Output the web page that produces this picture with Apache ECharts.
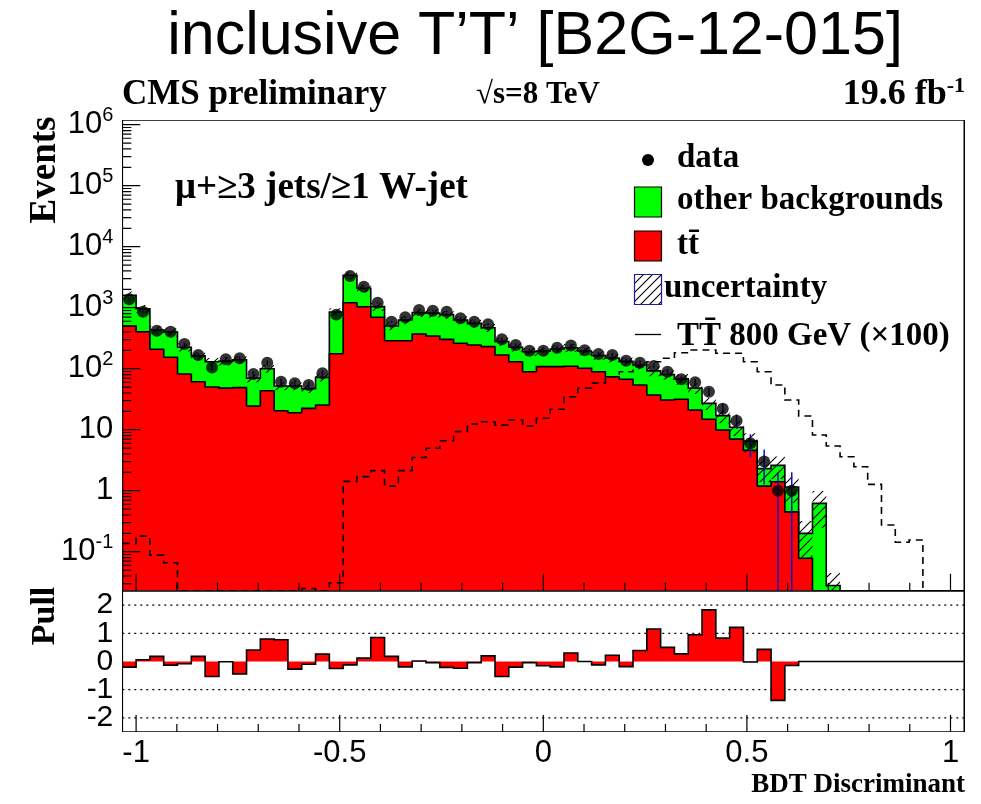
<!DOCTYPE html>
<html><head><meta charset="utf-8">
<script src="https://cdn.jsdelivr.net/npm/echarts@6/dist/echarts.min.js"></script>
<style>html,body{margin:0;padding:0;background:#fff}#c{width:981px;height:804px}</style>
</head><body><div id="c"></div>
<script>
// ---- data (61 bins, BDT discriminant) ----
const binWidth = 2 / 59;
const xMin = -1 - binWidth, xMax = 1 + binWidth;
const yMin = 0.02295, yMax = 1.194e6;

const dataCounts = [1373,860,420,404,254,168,105,143,148,82,125,61,58,54,84,770,3311,2208,1208,589,696,917,893,860,670,589,534,303,245,197,197,221,240,200,174,168,135,125,111,89,67,60,42,22,14,6,3,1,1,0,0,0,0,0,0,0,0,0,0,0,0];
const totalBkg = [1600,960,430,400,225,162,130,133,140,70,100,52,52,47,72,850,3400,2080,1040,500,630,830,815,770,630,555,470,280,225,190,195,210,220,195,165,150,132,115,92,80,68,48,27,17,11,6.5,2.3,2.6,1.15,0.2,0.62,0.028,0,0,0,0,0,0,0,0,0];
const ttbar = [501,404,208,154,82,61,50,48,49,24.5,43.6,20.5,19,22.4,25.4,176,1208,1038,696,288,288,371,344,303,261,245,230,168,130,89,108,108,110,102,89,74,67,54,37,30.7,31.5,21,14.8,9.9,7.0,4.6,1.19,1.4,0.45,0.078,0,0,0,0,0,0,0,0,0,0,0];
const signalX100 = [0.137,0.18,0.088,0.066,0,0,0,0,0,0,0,0,0,0.025,0,0.031,1.42,1.7,2.13,1.19,2.13,3.5,4.96,6.6,9.3,12.4,13.5,11.9,14.4,11.5,15.4,21.6,34.7,48,58,74,89,108,130,148,183,203,203,179,179,130,89,54,30.7,16.8,8.2,5.4,3.6,2.47,1.27,0.274,0.143,0.156,0,0,0];
const pullValues = [-0.2,0.06,0.18,-0.13,-0.08,0.18,-0.53,-0.01,-0.44,0.41,0.8,0.77,-0.27,-0.1,0.26,-0.25,-0.12,0.12,0.85,0.18,-0.19,0.02,-0.04,-0.21,-0.24,-0.04,0.2,-0.53,-0.2,-0.04,-0.15,-0.19,0.3,0,-0.12,0.22,-0.18,0.39,1.15,0.5,0.27,0.95,1.83,0.83,1.21,-0.02,0.43,-1.38,-0.14,0,0,0,0,0,0,0,0,0,0,0,0];
const bkgRelUnc = [0.15,0.15,0.15,0.15,0.15,0.15,0.15,0.15,0.15,0.15,0.15,0.15,0.15,0.15,0.15,0.15,0.15,0.15,0.15,0.15,0.15,0.15,0.15,0.15,0.15,0.15,0.15,0.15,0.15,0.15,0.15,0.15,0.15,0.15,0.15,0.15,0.15,0.15,0.18,0.18,0.2,0.2,0.22,0.25,0.28,0.35,0.4,0.4,0.45,0.6,0.6,0.6,0,0,0,0,0,0,0,0,0];
const xTickLabels = ['-1','-0.5','0','0.5','1'];
const pullTickLabels = ['-2','-1','0','1','2'];

const N = dataCounts.length;
const SERIF = '"Liberation Serif","Times New Roman",serif';
const SANS = '"Liberation Sans",Arial,sans-serif';
function cy(v){ return Math.min(Math.max(v, yMin), yMax); }
function edge(k){ return xMin + k * binWidth; }
function stepTop(api, vals, mapY){
  const pts = [];
  for (let k = 0; k < N; k++) {
    const y = mapY(vals[k]);
    pts.push(api.coord([edge(k), y]));
    pts.push(api.coord([edge(k + 1), y]));
  }
  return pts;
}
function fillItem(upper, lower, color, mapY, base){
  return function(params, api){
    const top = stepTop(api, upper, mapY);
    let bot;
    if (lower) bot = stepTop(api, lower, mapY).reverse();
    else bot = [api.coord([xMax, base]), api.coord([xMin, base])];
    return {type:'polygon', shape:{points: top.concat(bot)}, style:{fill: color, stroke: null}};
  };
}
function outlineItem(vals, mapY, base, dash){
  return function(params, api){
    const pts = [api.coord([xMin, base])].concat(stepTop(api, vals, mapY), [api.coord([xMax, base])]);
    return {type:'polyline', shape:{points: pts}, style:{fill: null, stroke:'#000', lineWidth: 1.6, lineDash: dash || null}};
  };
}
// hatch pattern
const hc = document.createElement('canvas'); hc.width = 9; hc.height = 9;
const hg = hc.getContext('2d'); hg.strokeStyle = '#000'; hg.lineWidth = 1.1;
hg.beginPath(); hg.moveTo(0,9); hg.lineTo(9,0); hg.moveTo(-4.5,4.5); hg.lineTo(4.5,-4.5); hg.moveTo(4.5,13.5); hg.lineTo(13.5,4.5); hg.stroke();
const hatch = {image: hc, repeat: 'repeat'};

function hatchItem(params, api){
  const children = [];
  for (let k = 0; k < N; k++) {
    if (totalBkg[k] <= 0 || bkgRelUnc[k] <= 0) continue;
    const p0 = api.coord([edge(k), cy(totalBkg[k] * (1 + bkgRelUnc[k]))]);
    const p1 = api.coord([edge(k + 1), cy(totalBkg[k] * (1 - bkgRelUnc[k]))]);
    children.push({type:'rect', shape:{x:p0[0], y:p0[1], width:p1[0]-p0[0], height:p1[1]-p0[1]}, style:{fill: hatch}});
  }
  return {type:'group', children};
}
function mainDeco(params, api){
  const ch = [];
  const L = (a, b) => ch.push({type:'line', shape:{x1:a[0], y1:a[1], x2:b[0], y2:b[1]}, style:{stroke:'#000', lineWidth:1.2}});
  for (let n = -2; n <= 6; n++) {
    for (let m = 1; m <= 9; m++) {
      const v = m * Math.pow(10, n);
      if (v < yMin || v > yMax) continue;
      const p = api.coord([xMin, v]);
      L(p, [p[0] + (m === 1 ? 18 : 9), p[1]]);
    }
  }
  for (let i = -10; i <= 10; i++) {
    const p = api.coord([i / 10, yMin]);
    L(p, [p[0], p[1] - (i % 5 === 0 ? 17 : 8)]);
  }
  const a = api.coord([xMin, yMax]), b = api.coord([xMax, yMin]);
  ch.push({type:'rect', shape:{x:a[0], y:a[1], width:b[0]-a[0], height:b[1]-a[1]}, style:{fill:null, stroke:'#000', lineWidth:1.6}});
  return {type:'group', children: ch};
}
function pullGridLines(params, api){
  const ch = [];
  [-2,-1,1,2].forEach(v => {
    const a = api.coord([xMin, v]), b = api.coord([xMax, v]);
    ch.push({type:'line', shape:{x1:a[0], y1:a[1], x2:b[0], y2:b[1]}, style:{stroke:'#000', lineWidth:1.2, lineDash:[2,4]}});
  });
  return {type:'group', children: ch};
}
function pullDeco(params, api){
  const ch = [];
  for (let i = -10; i <= 10; i++) {
    const p = api.coord([i / 10, -2.5]);
    ch.push({type:'line', shape:{x1:p[0], y1:p[1], x2:p[0], y2:p[1] - (i % 5 === 0 ? 17 : 8)}, style:{stroke:'#000', lineWidth:1.2}});
  }
  const a = api.coord([xMin, 2.5]), b = api.coord([xMax, -2.5]);
  ch.push({type:'rect', shape:{x:a[0], y:a[1], width:b[0]-a[0], height:b[1]-a[1]}, style:{fill:null, stroke:'#000', lineWidth:1.6}});
  return {type:'group', children: ch};
}
function errItem(params, api){
  const x = api.value(0), n = api.value(1);
  const s = Math.sqrt(n);
  const a = api.coord([x, cy(n + s)]), b = api.coord([x, cy(n - s)]);
  return {type:'line', shape:{x1:a[0], y1:a[1], x2:b[0], y2:b[1]}, style:{stroke:'#1010c0', lineWidth:1.5}};
}

const pts = [];
for (let k = 0; k < N; k++) if (dataCounts[k] > 0) pts.push([edge(k) + binWidth / 2, dataCounts[k]]);

const one = [[0, 1]];
const cs = (render, z, grid) => ({type:'custom', xAxisIndex: grid, yAxisIndex: grid, data: one, renderItem: render, silent: true, z: z, clip: true, animation: false});
const mapLog = cy, mapLin = v => v;

const chart = echarts.init(document.getElementById('c'), null, {renderer:'canvas', width:981, height:804});
chart.setOption({
  animation: false,
  backgroundColor: '#fff',
  grid: [
    {left:122.3, top:120, width:842, height:470.7, show:false},
    {left:122.3, top:591, width:842, height:141, show:false}
  ],
  xAxis: [
    {type:'value', gridIndex:0, min:xMin, max:xMax, axisLine:{show:false}, axisTick:{show:false}, axisLabel:{show:false}, splitLine:{show:false}},
    {type:'value', gridIndex:1, min:xMin, max:xMax, axisLine:{show:false}, axisTick:{show:false}, splitLine:{show:false},
     axisLabel:{show:true, showMinLabel:false, showMaxLabel:false, margin:6, color:'#000', fontSize:31, fontFamily:SANS,
       formatter: v => { const i = Math.round(v * 2); return Math.abs(v * 2 - i) < 1e-6 && i >= -2 && i <= 2 ? xTickLabels[i + 2] : ''; }}}
  ],
  yAxis: [
    {type:'log', gridIndex:0, logBase:10, min:yMin, max:yMax, splitNumber:8, axisLine:{show:false}, axisTick:{show:false}, splitLine:{show:false},
     axisLabel:{show:true, showMinLabel:false, showMaxLabel:false, margin:9, color:'#000',
       formatter: v => { const l = Math.log10(v); const e = Math.round(l); if (Math.abs(l - e) > 1e-6 || e < -1 || e > 6) return ''; if (e === 0) return '{n|1}'; if (e === 1) return '{n|10}'; return '{n|10}{s|' + e + '}'; },
       rich:{ n:{fontSize:31, fontFamily:SANS, color:'#000', lineHeight:31}, s:{fontSize:20, fontFamily:SANS, color:'#000', lineHeight:20, padding:[0,0,18,0]} }}},
    {type:'value', gridIndex:1, min:-2.5, max:2.5, splitNumber:5, axisLine:{show:false}, axisTick:{show:false}, splitLine:{show:false},
     axisLabel:{show:true, showMinLabel:false, showMaxLabel:false, margin:9, color:'#000', fontSize:30, fontFamily:SANS,
       formatter: v => { const i = Math.round(v); return Math.abs(v - i) < 1e-6 && i >= -2 && i <= 2 ? pullTickLabels[i + 2] : ''; }}}
  ],
  series: [
    cs(fillItem(ttbar, null, '#ff0000', mapLog, yMin), 2, 0),
    cs(fillItem(totalBkg, ttbar, '#00ff00', mapLog, yMin), 3, 0),
    cs(outlineItem(ttbar, mapLog, yMin), 4, 0),
    cs(outlineItem(totalBkg, mapLog, yMin), 5, 0),
    cs(hatchItem, 6, 0),
    cs(outlineItem(signalX100, mapLog, yMin, [7,5]), 7, 0),
    {type:'custom', xAxisIndex:0, yAxisIndex:0, data: pts, renderItem: errItem, silent:true, z:8, clip:true},
    {type:'scatter', xAxisIndex:0, yAxisIndex:0, data: pts, symbol:'circle', symbolSize:12, itemStyle:{color:'#000'}, silent:true, z:9},
    cs(mainDeco, 10, 0),
    cs(pullGridLines, 1, 1),
    cs(fillItem(pullValues, null, '#ff0000', mapLin, 0), 2, 1),
    cs(outlineItem(pullValues, mapLin, 0), 3, 1),
    cs(pullDeco, 10, 1)
  ],
  graphic: [
    {type:'text', x:535, y:37, z:100, style:{text:'inclusive T\u2019T\u2019 [B2G-12-015]', font:'61px ' + SANS, fill:'#000', align:'center', verticalAlign:'middle'}},
    {type:'text', x:122, y:95, z:100, style:{text:'CMS preliminary', font:'bold 35px ' + SERIF, fill:'#000', align:'left', verticalAlign:'middle'}},
    {type:'text', x:476, y:95, z:100, style:{text:'\u221As=8 TeV', font:'bold 31px ' + SERIF, fill:'#000', align:'left', verticalAlign:'middle'}},
    {type:'text', x:965, y:95, z:100, style:{text:'19.6 fb{s|-1}', font:'bold 36px ' + SERIF, fill:'#000', align:'right', verticalAlign:'middle',
      rich:{s:{font:'bold 22px ' + SERIF, fill:'#000', padding:[0,0,18,0]}}}},
    {type:'text', x:175, y:188, z:100, style:{text:'\u03BC+\u22653 jets/\u22651 W-jet', font:'bold 37px ' + SERIF, fill:'#000', align:'left', verticalAlign:'middle'}},
    {type:'text', x:45, y:170, rotation:Math.PI/2, z:100, style:{text:'Events', font:'bold 37px ' + SERIF, fill:'#000', align:'center', verticalAlign:'middle'}},
    {type:'text', x:45, y:616, rotation:Math.PI/2, z:100, style:{text:'Pull', font:'bold 34px ' + SERIF, fill:'#000', align:'center', verticalAlign:'middle'}},
    {type:'text', x:965, y:785, z:100, style:{text:'BDT Discriminant', font:'bold 27px ' + SERIF, fill:'#000', align:'right', verticalAlign:'middle'}},
    // legend
    {type:'circle', z:100, shape:{cx:648, cy:160, r:6}, style:{fill:'#000'}},
    {type:'text', x:677, y:158, z:100, style:{text:'data', font:'bold 33px ' + SERIF, fill:'#000', align:'left', verticalAlign:'middle'}},
    {type:'rect', z:100, shape:{x:634.5, y:187, width:27, height:30}, style:{fill:'#00ff00', stroke:'#000', lineWidth:1.2}},
    {type:'text', x:677, y:200, z:100, style:{text:'other backgrounds', font:'bold 33px ' + SERIF, fill:'#000', align:'left', verticalAlign:'middle'}},
    {type:'rect', z:100, shape:{x:634.5, y:231, width:27, height:30}, style:{fill:'#ff0000', stroke:'#000', lineWidth:1.2}},
    {type:'text', x:677, y:245, z:100, style:{text:'tt\u0304', font:'bold 33px ' + SERIF, fill:'#000', align:'left', verticalAlign:'middle'}},
    {type:'rect', z:100, shape:{x:634.5, y:274.5, width:27, height:30}, style:{fill:hatch, stroke:'#1a1aa6', lineWidth:1.2}},
    {type:'text', x:664, y:288, z:100, style:{text:'uncertainty', font:'bold 33px ' + SERIF, fill:'#000', align:'left', verticalAlign:'middle'}},
    {type:'line', z:100, shape:{x1:635, y1:334.5, x2:661, y2:334.5}, style:{stroke:'#000', lineWidth:1.3}},
    {type:'text', x:677, y:336, z:100, style:{text:'TT\u0304 800 GeV (\u00D7100)', font:'bold 33px ' + SERIF, fill:'#000', align:'left', verticalAlign:'middle'}}
  ]
});
</script></body></html>
